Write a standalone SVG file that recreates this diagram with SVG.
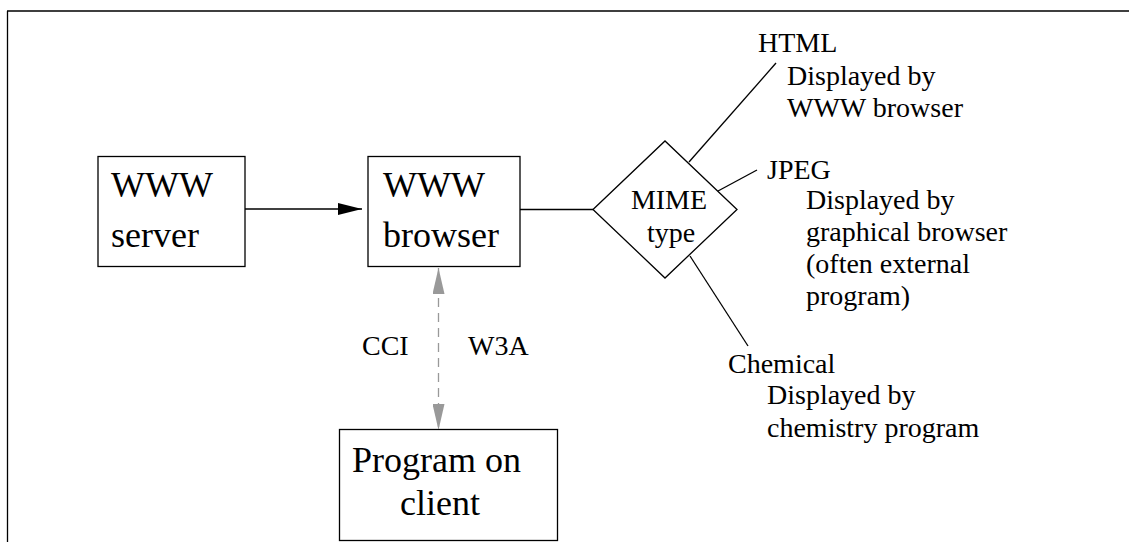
<svg xmlns="http://www.w3.org/2000/svg" width="1129" height="542" viewBox="0 0 1129 542">
<defs>
<style>
.big{font-size:36px}
.mid{font-size:28px}
.box{fill:#fff;stroke:#000;stroke-width:1.3}
.ln{stroke:#000;stroke-width:1.3;fill:none}
.dash{stroke:#999;stroke-width:1.3;stroke-dasharray:9 6;fill:none}
</style>
<marker id="ah" viewBox="0 0 24 12" refX="24" refY="6" markerWidth="24" markerHeight="12" markerUnits="userSpaceOnUse" orient="auto">
<path d="M0,0 L24,6 L0,12 Z" fill="#000"/>
</marker>
<marker id="gh2" viewBox="0 0 26 12" refX="26" refY="6" markerWidth="26" markerHeight="12" markerUnits="userSpaceOnUse" orient="auto-start-reverse">
<path d="M0,0 L26,6 L0,12 Z" fill="#999"/>
</marker>
</defs>
<rect width="1129" height="542" fill="#fff"/>
<g font-family="Liberation Serif, Times New Roman, DejaVu Serif, serif" fill="#000">
<g id="frame">
<path class="ln" d="M7,11 H1129 M7.5,11 V542"/>
</g>
<g id="connectors">
<line class="ln" x1="245" y1="209" x2="362" y2="209" marker-end="url(#ah)"/>
<line class="ln" x1="520" y1="209.5" x2="593" y2="209.5"/>
<line class="ln" x1="689" y1="162" x2="776" y2="63"/>
<line class="ln" x1="718" y1="191" x2="757" y2="170"/>
<line class="ln" x1="690" y1="256" x2="748" y2="346"/>
<line class="dash" x1="438.5" y1="268" x2="438.5" y2="430" marker-start="url(#gh2)" marker-end="url(#gh2)"/>
<text class="mid" x="362" y="355">CCI</text>
<text class="mid" x="468" y="355">W3A</text>
</g>
<g id="server">
<rect class="box" x="98" y="156.5" width="147" height="110"/>
<text class="big" x="111" y="197">WWW</text>
<text class="big" x="111" y="247">server</text>
</g>
<g id="browser">
<rect class="box" x="368" y="156.5" width="152" height="110"/>
<text class="big" x="383" y="197">WWW</text>
<text class="big" x="383" y="247">browser</text>
</g>
<g id="mime">
<polygon class="box" points="593,209.5 665,141 737,209.5 665,278"/>
<text class="mid" x="669" y="209" text-anchor="middle">MIME</text>
<text class="mid" x="671" y="242" text-anchor="middle">type</text>
</g>
<g id="program">
<rect class="box" x="339.5" y="429.5" width="218" height="111"/>
<text class="big" x="352" y="472">Program on</text>
<text class="big" x="400" y="515">client</text>
</g>
<g id="html">
<text class="mid" x="758" y="52">HTML</text>
<text class="mid" x="787" y="85">Displayed by</text>
<text class="mid" x="787" y="117">WWW browser</text>
</g>
<g id="jpeg">
<text class="mid" x="767" y="179">JPEG</text>
<text class="mid" x="806" y="209">Displayed by</text>
<text class="mid" x="806" y="241">graphical browser</text>
<text class="mid" x="806" y="273">(often external</text>
<text class="mid" x="806" y="305">program)</text>
</g>
<g id="chemical">
<text class="mid" x="728" y="373">Chemical</text>
<text class="mid" x="767" y="404">Displayed by</text>
<text class="mid" x="767" y="437">chemistry program</text>
</g>
</g>
</svg>
